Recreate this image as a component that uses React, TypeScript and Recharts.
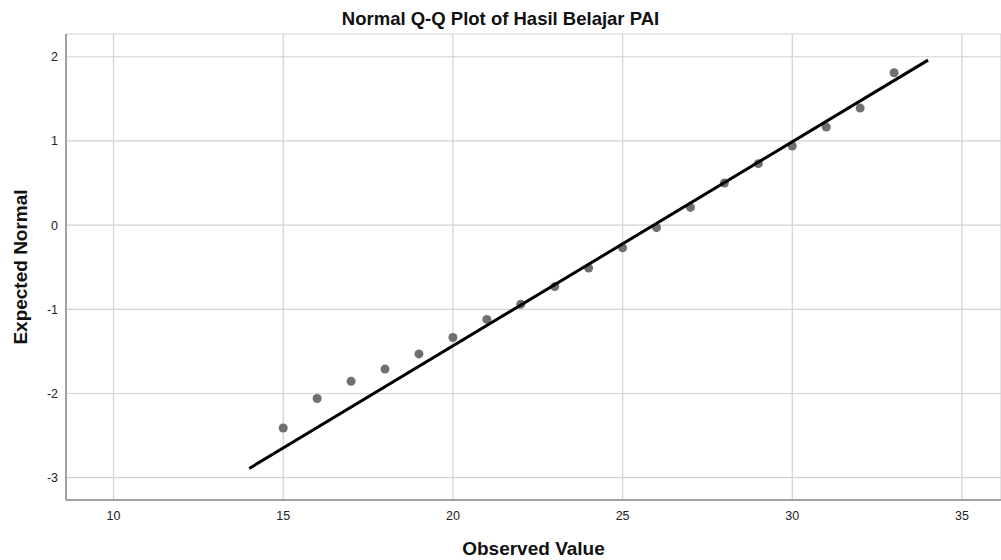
import { ScatterChart, Scatter, XAxis, YAxis, CartesianGrid, Label } from "recharts";

const observed = [15, 16, 17, 18, 19, 20, 21, 22, 23, 24, 25, 26, 27, 28, 29, 30, 31, 32, 33];
const expected = [-2.41, -2.06, -1.855, -1.71, -1.53, -1.335, -1.12, -0.94, -0.73, -0.51, -0.27, -0.03, 0.21, 0.5, 0.73, 0.94, 1.165, 1.39, 1.81];
const lineX = [14, 34];
const lineY = [-2.89, 1.96];
const xTicks = [10, 15, 20, 25, 30, 35];
const yTicks = [-3, -2, -1, 0, 1, 2];

const points = observed.map((x, i) => ({ x, y: expected[i] }));
const refLine = lineX.map((x, i) => ({ x, y: lineY[i] }));

const font = "'Liberation Sans', Arial, sans-serif";

export default function App() {
  return (
    <div style={{ position: "absolute", left: 0, top: 0, width: 1001, height: 560, background: "#fff", fontFamily: font }}>
      <div
        style={{
          position: "absolute",
          top: 8,
          width: 1001,
          textAlign: "center",
          fontSize: 18.5,
          fontWeight: "bold",
          color: "#111",
        }}
      >
        Normal Q-Q Plot of Hasil Belajar PAI
      </div>
      <ScatterChart width={1001} height={560} margin={{ top: 34, right: 0, bottom: 0, left: 0 }}>
        <CartesianGrid stroke="#d2d2d2" strokeWidth={1.2} />
        <XAxis
          type="number"
          dataKey="x"
          domain={[8.6, 36.15]}
          ticks={xTicks}
          allowDataOverflow
          height={60}
          tickLine={false}
          tickMargin={5}
          stroke="#8c8c8c"
          strokeWidth={1.5}
          tick={{ fill: "#222", fontSize: 12.5, fontFamily: font }}
        >
          <Label value="Observed Value" position="insideBottom" offset={5} style={{ fontSize: 19, fontWeight: "bold", fill: "#111", fontFamily: font }} />
        </XAxis>
        <YAxis
          type="number"
          dataKey="y"
          domain={[-3.265, 2.27]}
          ticks={yTicks}
          allowDataOverflow
          width={66}
          tickLine={false}
          stroke="#8c8c8c"
          strokeWidth={1.5}
          tick={{ fill: "#222", fontSize: 12.5, fontFamily: font }}
        >
          <Label value="Expected Normal" angle={-90} position="insideLeft" offset={20} style={{ textAnchor: "middle", fontSize: 19, fontWeight: "bold", fill: "#111", fontFamily: font }} />
        </YAxis>
        <Scatter data={points} fill="#707070" shape={(p: any) => <circle cx={p.cx} cy={p.cy} r={4.5} fill="#707070" />} isAnimationActive={false} />
        <Scatter data={refLine} line={{ stroke: "#000", strokeWidth: 3 }} shape={() => <g />} isAnimationActive={false} />
      </ScatterChart>
    </div>
  );
}
